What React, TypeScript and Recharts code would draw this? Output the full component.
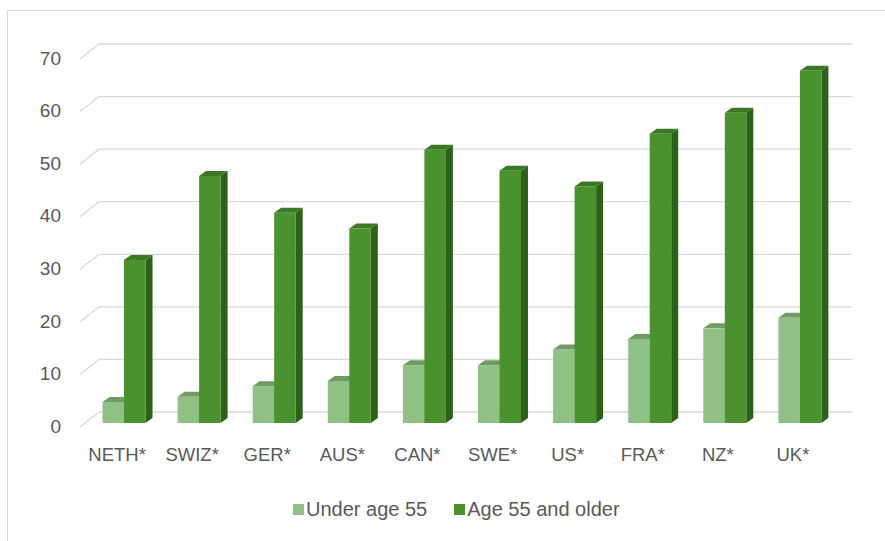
import React from "react";
import { BarChart, Bar, XAxis, YAxis, CartesianGrid, Legend } from "recharts";

const categories = ["NETH*", "SWIZ*", "GER*", "AUS*", "CAN*", "SWE*", "US*", "FRA*", "NZ*", "UK*"];
const underAge55 = [4, 5, 7, 8, 11, 11, 14, 16, 18, 20];
const age55AndOlder = [31, 47, 40, 37, 52, 48, 45, 55, 59, 67];
const yTicks = [0, 10, 20, 30, 40, 50, 60, 70];
const seriesNames = ["Under age 55", "Age 55 and older"];

const data = categories.map((c, i) => ({ name: c, under: underAge55[i], older: age55AndOlder[i] }));

const DX = 7;
const DY = 5;
const FONT = "'Liberation Sans', Arial, sans-serif";
const TEXT = "#595959";

const makeShape = (front: string, top: string, side: string) => (props: any) => {
  const { x, y, width: w, height: h } = props;
  if (h == null || w == null) return null;
  return (
    <g>
      <polygon points={`${x + w},${y} ${x + w + DX},${y - DY} ${x + w + DX},${y + h - DY} ${x + w},${y + h}`} fill={side} />
      <polygon points={`${x},${y} ${x + DX},${y - DY} ${x + w + DX},${y - DY} ${x + w},${y}`} fill={top} />
      <rect x={x} y={y} width={w} height={h} fill={front} />
    </g>
  );
};

const lightShape = makeShape("#8EC183", "#6F9B64", "#6A955E");
const darkShape = makeShape("#4A922E", "#3A7824", "#2C6118");

const gridLine = (props: any) => {
  const { y1 } = props;
  const y = y1;
  return (
    <path
      key={props.key ?? `g-${y}`}
      d={`M80,${y + 4} L99,${y - 11} L852,${y - 11}`}
      stroke="#D9D9D9"
      strokeWidth={1.3}
      fill="none"
    />
  );
};

const YTick = (props: any) => {
  const { y, payload } = props;
  return (
    <text x={61} y={y + 3} dy="0.35em" textAnchor="end" fill={TEXT} fontSize={19} fontFamily={FONT}>
      {payload.value}
    </text>
  );
};

const XTick = (props: any) => {
  const { x, payload } = props;
  return (
    <text x={x - 7} y={455} dy="0.35em" textAnchor="middle" fill={TEXT} fontSize={18.5} fontFamily={FONT}>
      {payload.value}
    </text>
  );
};

const LegendContent = () => (
  <div style={{ display: "flex", alignItems: "center", paddingLeft: 293, height: 26, fontFamily: FONT, fontSize: 20, color: TEXT }}>
    <span style={{ width: 11, height: 11, background: "#8EC183", display: "inline-block", marginRight: 2 }} />
    <span style={{ marginRight: 27 }}>{seriesNames[0]}</span>
    <span style={{ width: 11, height: 11, background: "#4A922E", display: "inline-block", marginRight: 2 }} />
    <span>{seriesNames[1]}</span>
  </div>
);

export default function App() {
  return (
    <div style={{ position: "absolute", left: 0, top: 0, width: 885, height: 541, background: "#fff", overflow: "hidden" }}>
      <div style={{ position: "absolute", left: 7, top: 10, width: 1000, height: 1000, borderLeft: "1.5px solid #D9D9D9", borderTop: "1.5px solid #D9D9D9" }} />
      <BarChart
        width={885}
        height={541}
        data={data}
        margin={{ top: 55, right: 47.5, bottom: 62, left: 0 }}
        barGap={0}
        barSize={21.5}
      >
        <CartesianGrid vertical={false} horizontal={gridLine} />
        <YAxis
          domain={[0, 70]}
          ticks={yTicks}
          width={86.5}
          axisLine={false}
          tickLine={false}
          tick={<YTick />}
          interval={0}
        />
        <XAxis dataKey="name" height={30} axisLine={false} tickLine={false} tick={<XTick />} interval={0} />
        <Legend
          verticalAlign="bottom"
          content={<LegendContent />}
          wrapperStyle={{ top: 496, bottom: "auto", left: 0, width: 885 }}
        />
        <Bar dataKey="under" name={seriesNames[0]} fill="#8EC183" shape={lightShape} isAnimationActive={false} />
        <Bar dataKey="older" name={seriesNames[1]} fill="#4A922E" shape={darkShape} isAnimationActive={false} />
      </BarChart>
    </div>
  );
}
